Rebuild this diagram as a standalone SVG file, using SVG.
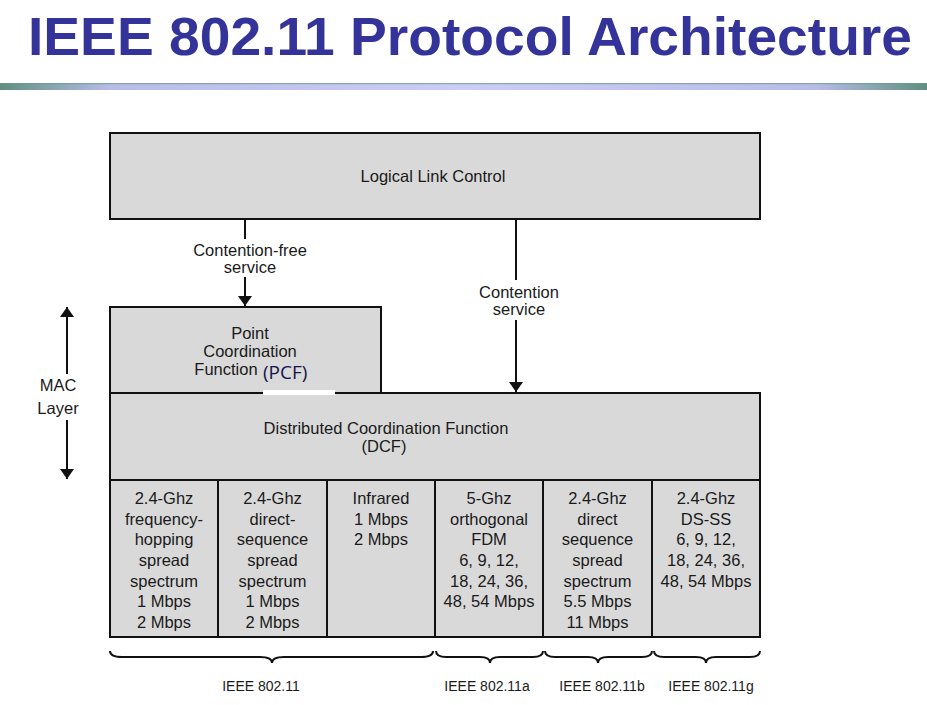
<svg xmlns="http://www.w3.org/2000/svg" width="927" height="705" viewBox="0 0 927 705">
<defs>
<linearGradient id="hdr" x1="0" y1="0" x2="1" y2="0">
<stop offset="0" stop-color="#5f8f80"/>
<stop offset="0.12" stop-color="#b8bde8"/>
<stop offset="0.5" stop-color="#ccccf6"/>
<stop offset="0.88" stop-color="#b8bde8"/>
<stop offset="1" stop-color="#5f8f80"/>
</linearGradient>
<marker id="ah" viewBox="0 0 10 14" refX="10" refY="7" markerWidth="10" markerHeight="14" markerUnits="userSpaceOnUse" orient="auto">
<path d="M0,0 L10,7 L0,14 Z" fill="#111"/>
</marker>
<style>
.box{fill:#d9d9d9;stroke:#111;stroke-width:2}
.t{font-family:"Liberation Sans",Arial,sans-serif;font-size:16.5px;fill:#1a1a1a;text-anchor:middle}
.lbl{font-family:"Liberation Sans",Arial,sans-serif;font-size:14px;fill:#1a1a1a;text-anchor:middle}
.ln{stroke:#111;stroke-width:2;fill:none}
.br{stroke:#111;stroke-width:2;fill:none}
</style>
</defs>
<rect width="927" height="705" fill="#fff"/>
<text x="28" y="55" font-family="'Liberation Sans',Arial,sans-serif" font-weight="bold" font-size="53" fill="#333399" textLength="884" lengthAdjust="spacingAndGlyphs">IEEE 802.11 Protocol Architecture</text>
<rect x="0" y="83" width="927" height="7" fill="url(#hdr)"/>
<rect x="0" y="83" width="927" height="1.2" fill="#6f9a8c" opacity="0.7"/>

<g id="llc">
<rect class="box" x="110" y="133" width="650" height="86"/>
<text class="t" x="433" y="182">Logical Link Control</text>
</g>
<g id="pcf">
<rect class="box" x="110" y="307" width="271" height="86"/>
<text class="t" x="250" y="339">Point</text>
<text class="t" x="250" y="357">Coordination</text>
<text class="t" x="226" y="375">Function</text>
</g>
<g id="dcf">
<rect class="box" x="110" y="393" width="650" height="87"/>
<text class="t" x="386" y="434">Distributed Coordination Function</text>
<text class="t" x="384" y="452">(DCF)</text>
</g>
<g id="pcf-label">
<rect x="263" y="390" width="72" height="5" fill="#fff"/>
<text x="263" y="379" font-family="'Open Sans','Noto Sans',sans-serif" font-size="19" fill="#14144a">(PCF)</text>
</g>
<g id="phy1">
<rect class="box" x="110" y="480" width="108" height="157"/>
<text class="t" x="164" y="504">2.4-Ghz</text>
<text class="t" x="164" y="525">frequency-</text>
<text class="t" x="164" y="545">hopping</text>
<text class="t" x="164" y="566">spread</text>
<text class="t" x="164" y="587">spectrum</text>
<text class="t" x="164" y="607">1 Mbps</text>
<text class="t" x="164" y="628">2 Mbps</text>
</g>
<g id="phy2">
<rect class="box" x="218" y="480" width="109" height="157"/>
<text class="t" x="272.5" y="504">2.4-Ghz</text>
<text class="t" x="272.5" y="525">direct-</text>
<text class="t" x="272.5" y="545">sequence</text>
<text class="t" x="272.5" y="566">spread</text>
<text class="t" x="272.5" y="587">spectrum</text>
<text class="t" x="272.5" y="607">1 Mbps</text>
<text class="t" x="272.5" y="628">2 Mbps</text>
</g>
<g id="phy3">
<rect class="box" x="327" y="480" width="108" height="157"/>
<text class="t" x="381" y="504">Infrared</text>
<text class="t" x="381" y="525">1 Mbps</text>
<text class="t" x="381" y="545">2 Mbps</text>
</g>
<g id="phy4">
<rect class="box" x="435" y="480" width="108" height="157"/>
<text class="t" x="489" y="504">5-Ghz</text>
<text class="t" x="489" y="525">orthogonal</text>
<text class="t" x="489" y="545">FDM</text>
<text class="t" x="489" y="566">6, 9, 12,</text>
<text class="t" x="489" y="587">18, 24, 36,</text>
<text class="t" x="489" y="607">48, 54 Mbps</text>
</g>
<g id="phy5">
<rect class="box" x="543" y="480" width="109" height="157"/>
<text class="t" x="597.5" y="504">2.4-Ghz</text>
<text class="t" x="597.5" y="525">direct</text>
<text class="t" x="597.5" y="545">sequence</text>
<text class="t" x="597.5" y="566">spread</text>
<text class="t" x="597.5" y="587">spectrum</text>
<text class="t" x="597.5" y="607">5.5 Mbps</text>
<text class="t" x="597.5" y="628">11 Mbps</text>
</g>
<g id="phy6">
<rect class="box" x="652" y="480" width="108" height="157"/>
<text class="t" x="706" y="504">2.4-Ghz</text>
<text class="t" x="706" y="525">DS-SS</text>
<text class="t" x="706" y="545">6, 9, 12,</text>
<text class="t" x="706" y="566">18, 24, 36,</text>
<text class="t" x="706" y="587">48, 54 Mbps</text>
</g>

<g id="connectors">
<line class="ln" x1="245" y1="220" x2="245" y2="239"/>
<text class="t" x="250" y="256">Contention-free</text>
<text class="t" x="250" y="273">service</text>
<line class="ln" x1="245" y1="277" x2="245" y2="306" marker-end="url(#ah)"/>
<line class="ln" x1="516" y1="220" x2="516" y2="280" stroke-width="1.5"/>
<text class="t" x="519" y="298">Contention</text>
<text class="t" x="519" y="315">service</text>
<line class="ln" x1="516" y1="320" x2="516" y2="392" stroke-width="1.5" marker-end="url(#ah)"/>
<line class="ln" x1="67" y1="374" x2="67" y2="307" marker-end="url(#ah)"/>
<line class="ln" x1="67" y1="420" x2="67" y2="479" marker-end="url(#ah)"/>
</g>
<g id="mac-label">
<text class="t" x="58" y="391">MAC</text>
<text class="t" x="58" y="414">Layer</text>
</g>
<g id="braces">
<path class="br" d="M110,651 Q110,657 122,657 L260,657 Q272,657 272,663 Q272,657 284,657 L421,657 Q433,657 433,651"/>
<path class="br" d="M436,651 Q436,657 446,657 L480,657 Q490,657 490,663 Q490,657 500,657 L533,657 Q543,657 543,651"/>
<path class="br" d="M545,651 Q545,657 555,657 L588,657 Q598,657 598,663 Q598,657 608,657 L642,657 Q652,657 652,651"/>
<path class="br" d="M654,651 Q654,657 664,657 L696,657 Q706,657 706,663 Q706,657 716,657 L750,657 Q760,657 760,651"/>
<text class="lbl" x="261" y="691">IEEE 802.11</text>
<text class="lbl" x="487" y="691">IEEE 802.11a</text>
<text class="lbl" x="602" y="691">IEEE 802.11b</text>
<text class="lbl" x="711" y="691">IEEE 802.11g</text>
</g>
</svg>
